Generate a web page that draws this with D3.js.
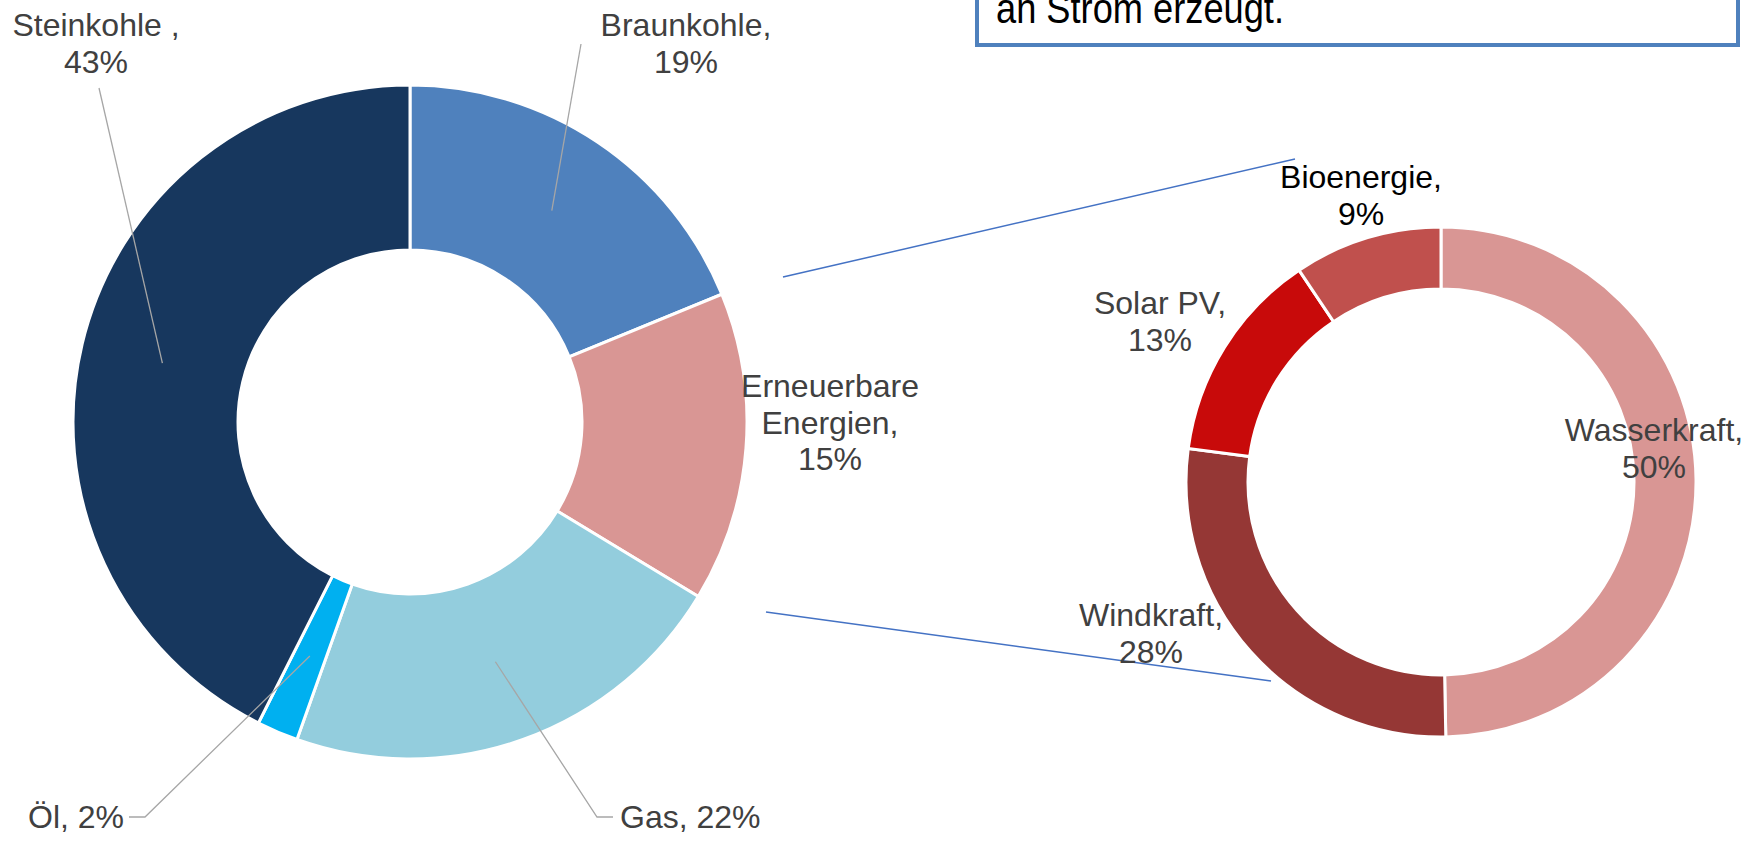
<!DOCTYPE html>
<html>
<head>
<meta charset="utf-8">
<script src="https://cdn.jsdelivr.net/npm/d3@7"></script>
<style>
  body { margin: 0; background: #fff; }
  svg text { font-family: "Liberation Sans", Arial, sans-serif; }
</style>
</head>
<body>
<div id="chart"></div>
<script>
// main donut: share of power generation
const mainCategories = ["Braunkohle", "Erneuerbare Energien", "Gas", "Öl", "Steinkohle"];
const mainValues = [19, 15, 22, 2, 43];
const mainPercents = ["19%", "15%", "22%", "2%", "43%"];
const mainColors = ["#4f81bd", "#d99694", "#93cddd", "#00b0f0", "#17375e"];

// second donut: split of the renewables
const subCategories = ["Wasserkraft", "Windkraft", "Solar PV", "Bioenergie"];
const subValues = [49.7, 27.4, 13.5, 9.4];
const subPercents = ["50%", "28%", "13%", "9%"];
const subColors = ["#d99694", "#953735", "#c80a0a", "#c0504d"];

// layout constants
const w = 1758;
const h = 844;

const svg = d3.select("#chart").append("svg")
  .attr("width", w)
  .attr("height", h);

const pie = d3.pie().sort(null).value(d => d.value);

// ---- big donut ----
const main = { cx: 410, cy: 422, r0: 172, r1: 337 };
const mainData = mainCategories.map((c, i) => ({ name: c, value: mainValues[i], pct: mainPercents[i], color: mainColors[i] }));
const mainArc = d3.arc().innerRadius(main.r0).outerRadius(main.r1);
const mainMid = d3.arc().innerRadius((main.r0 + main.r1) / 2).outerRadius((main.r0 + main.r1) / 2);

const gMain = svg.append("g").attr("transform", `translate(${main.cx},${main.cy})`);
const mainArcs = pie(mainData);
gMain.selectAll("path")
  .data(mainArcs)
  .enter()
  .append("path")
  .attr("d", mainArc)
  .attr("fill", d => d.data.color)
  .attr("stroke", "#fff")
  .attr("stroke-width", 3);

// ---- small donut ----
const sub = { cx: 1441, cy: 482, r0: 193, r1: 255 };
const subData = subCategories.map((c, i) => ({ name: c, value: subValues[i], pct: subPercents[i], color: subColors[i] }));
const subArc = d3.arc().innerRadius(sub.r0).outerRadius(sub.r1);

const gSub = svg.append("g").attr("transform", `translate(${sub.cx},${sub.cy})`);
gSub.selectAll("path")
  .data(pie(subData))
  .enter()
  .append("path")
  .attr("d", subArc)
  .attr("fill", d => d.data.color)
  .attr("stroke", "#fff")
  .attr("stroke-width", 3);

// connector lines between the two donuts
const connectors = [[[783, 277], [1295, 159]], [[766, 612], [1271, 681]]];
svg.selectAll("line.conn")
  .data(connectors)
  .enter()
  .append("line")
  .attr("class", "conn")
  .attr("x1", d => d[0][0]).attr("y1", d => d[0][1])
  .attr("x2", d => d[1][0]).attr("y2", d => d[1][1])
  .attr("stroke", "#4472c4")
  .attr("stroke-width", 1.5);

// label layout for the big donut: [x, y of first baseline, anchor, leader start points]
const mainLabelPos = {
  "Braunkohle": { x: 686, y: 36, anchor: "middle", lines: ["Braunkohle,"], leader: [[581, 44]] },
  "Erneuerbare Energien": { x: 830, y: 397, anchor: "middle", lines: ["Erneuerbare", "Energien,"], leader: null },
  "Gas": { x: 620, y: 828, anchor: "start", lines: null, leader: [[613, 817], [597, 817]] },
  "Öl": { x: 28, y: 828, anchor: "start", lines: null, leader: [[129, 817], [145, 817]] },
  "Steinkohle": { x: 96, y: 36, anchor: "middle", lines: ["Steinkohle ,"], leader: [[99, 88]] }
};

mainArcs.forEach(a => {
  const p = mainLabelPos[a.data.name];
  const [mx, my] = mainMid.centroid(a);
  if (p.leader) {
    const pts = p.leader.concat([[main.cx + mx, main.cy + my]]);
    svg.append("path")
      .attr("d", d3.line()(pts))
      .attr("fill", "none")
      .attr("stroke", "#a6a6a6")
      .attr("stroke-width", 1.3);
  }
  const t = svg.append("text")
    .attr("x", p.x)
    .attr("y", p.y)
    .attr("text-anchor", p.anchor)
    .attr("font-size", 32)
    .attr("fill", "#404040");
  if (p.lines) {
    p.lines.concat([a.data.pct]).forEach((l, i) => {
      t.append("tspan").attr("x", p.x).attr("dy", i ? 36.5 : 0).text(l);
    });
  } else {
    t.text(`${a.data.name}, ${a.data.pct}`);
  }
});

// labels of the small donut
const subLabelPos = {
  "Wasserkraft": { x: 1654, y: 441, color: "#404040" },
  "Windkraft": { x: 1151, y: 626, color: "#404040" },
  "Solar PV": { x: 1160, y: 314, color: "#404040" },
  "Bioenergie": { x: 1361, y: 188, color: "#000" }
};
subData.forEach(d => {
  const p = subLabelPos[d.name];
  const t = svg.append("text")
    .attr("x", p.x)
    .attr("y", p.y)
    .attr("text-anchor", "middle")
    .attr("font-size", 32)
    .attr("fill", p.color);
  t.append("tspan").attr("x", p.x).text(d.name + ",");
  t.append("tspan").attr("x", p.x).attr("dy", 36.5).text(d.pct);
});

// text box at the top right (cut off by the top edge)
svg.append("rect")
  .attr("x", 977)
  .attr("y", -60)
  .attr("width", 761)
  .attr("height", 105)
  .attr("fill", "#fff")
  .attr("stroke", "#4f81bd")
  .attr("stroke-width", 4);

svg.append("text")
  .attr("x", 996)
  .attr("y", 23)
  .attr("font-size", 42)
  .attr("textLength", 288)
  .attr("lengthAdjust", "spacingAndGlyphs")
  .attr("fill", "#000")
  .text("an Strom erzeugt.");
</script>
</body>
</html>
